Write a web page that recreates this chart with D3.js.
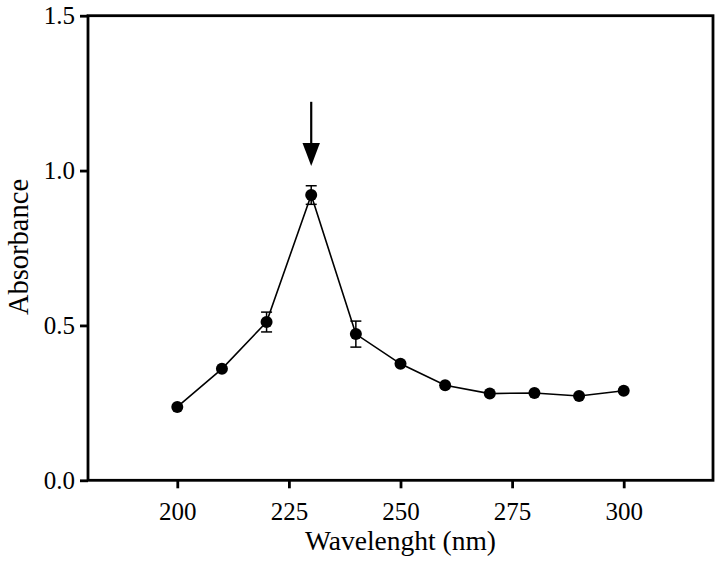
<!DOCTYPE html>
<html>
<head>
<meta charset="utf-8">
<script src="https://cdn.jsdelivr.net/npm/d3@7"></script>
<style>
  html, body { margin: 0; padding: 0; background: #fff; }
  svg { display: block; }
  text { font-family: "Liberation Serif", "DejaVu Serif", serif; fill: #000; }
</style>
</head>
<body>
<svg id="chart" width="724" height="565"></svg>
<script>
// ---- data ----
const wavelengths = [200, 210, 220, 230, 240, 250, 260, 270, 280, 290, 300];
const absorbance  = [0.237, 0.360, 0.511, 0.921, 0.472, 0.376, 0.307, 0.280, 0.282, 0.272, 0.289];
const errors      = [0, 0, 0.032, 0.030, 0.042, 0, 0, 0, 0, 0, 0];
const xTicks = [200, 225, 250, 275, 300];
const yTicks = [0.0, 0.5, 1.0, 1.5];
const xDomain = [180, 320];
const yDomain = [0, 1.5];
const arrowAt = { x: 230, yStart: 1.222, yTip: 1.015 };
const xTitle = "Wavelenght (nm)";
const yTitle = "Absorbance";

(function () {
// ---- layout ----
const svg = d3.select("#chart");
const pL = 88, pR = 713, pT = 15.7, pB = 480.3;

const x = d3.scaleLinear().domain(xDomain).range([pL, pR]);
const y = d3.scaleLinear().domain(yDomain).range([pB, pT]);

// frame
svg.append("rect")
  .attr("x", pL).attr("y", pT)
  .attr("width", pR - pL).attr("height", pB - pT)
  .attr("fill", "none").attr("stroke", "#000").attr("stroke-width", 2.8);

// axes
const xAxis = d3.axisBottom(x).tickValues(xTicks).tickSize(8).tickPadding(14)
  .tickFormat(d3.format("d"));
const gx = svg.append("g").attr("transform", `translate(0,${pB})`).call(xAxis);
gx.select(".domain").remove();
gx.selectAll(".tick line").attr("stroke", "#000").attr("stroke-width", 2.8);
gx.selectAll(".tick text").attr("font-size", 25).attr("font-family", "Liberation Serif");

const yAxis = d3.axisLeft(y).tickValues(yTicks).tickSize(8).tickPadding(5)
  .tickFormat(d3.format(".1f"));
const gy = svg.append("g").attr("transform", `translate(${pL},0)`).call(yAxis);
gy.select(".domain").remove();
gy.selectAll(".tick line").attr("stroke", "#000").attr("stroke-width", 2.8);
gy.selectAll(".tick text").attr("font-size", 25).attr("font-family", "Liberation Serif");

// titles
svg.append("text")
  .attr("x", (pL + pR) / 2).attr("y", 550)
  .attr("text-anchor", "middle").attr("font-size", 27.5)
  .text(xTitle);
svg.append("text")
  .attr("transform", `translate(28,${(pT + pB) / 2 - 1}) rotate(-90)`)
  .attr("text-anchor", "middle").attr("font-size", 28.5)
  .text(yTitle);

const pts = wavelengths.map((w, i) => ({ w, v: absorbance[i], e: errors[i] }));

// line
svg.append("path")
  .datum(pts)
  .attr("fill", "none").attr("stroke", "#000").attr("stroke-width", 1.6)
  .attr("d", d3.line().x(d => x(d.w)).y(d => y(d.v)));

// error bars
const eb = svg.append("g").attr("stroke", "#000").attr("stroke-width", 1.5);
pts.filter(d => d.e > 0).forEach(d => {
  const cx = x(d.w), capW = 5.5;
  eb.append("line").attr("x1", cx).attr("x2", cx).attr("y1", y(d.v + d.e)).attr("y2", y(d.v - d.e));
  eb.append("line").attr("x1", cx - capW).attr("x2", cx + capW).attr("y1", y(d.v + d.e)).attr("y2", y(d.v + d.e));
  eb.append("line").attr("x1", cx - capW).attr("x2", cx + capW).attr("y1", y(d.v - d.e)).attr("y2", y(d.v - d.e));
});

// points
svg.append("g").selectAll("circle").data(pts).join("circle")
  .attr("cx", d => x(d.w)).attr("cy", d => y(d.v)).attr("r", 6)
  .attr("fill", "#000");

// arrow annotation
const ax = x(arrowAt.x), ay0 = y(arrowAt.yStart), ayTip = y(arrowAt.yTip);
const headH = 23, headW = 8.7;
svg.append("line")
  .attr("x1", ax).attr("x2", ax).attr("y1", ay0).attr("y2", ayTip - headH + 2)
  .attr("stroke", "#000").attr("stroke-width", 2.2);
svg.append("path")
  .attr("d", `M${ax - headW},${ayTip - headH} L${ax + headW},${ayTip - headH} L${ax},${ayTip} Z`)
  .attr("fill", "#000");
})();
</script>
</body>
</html>
